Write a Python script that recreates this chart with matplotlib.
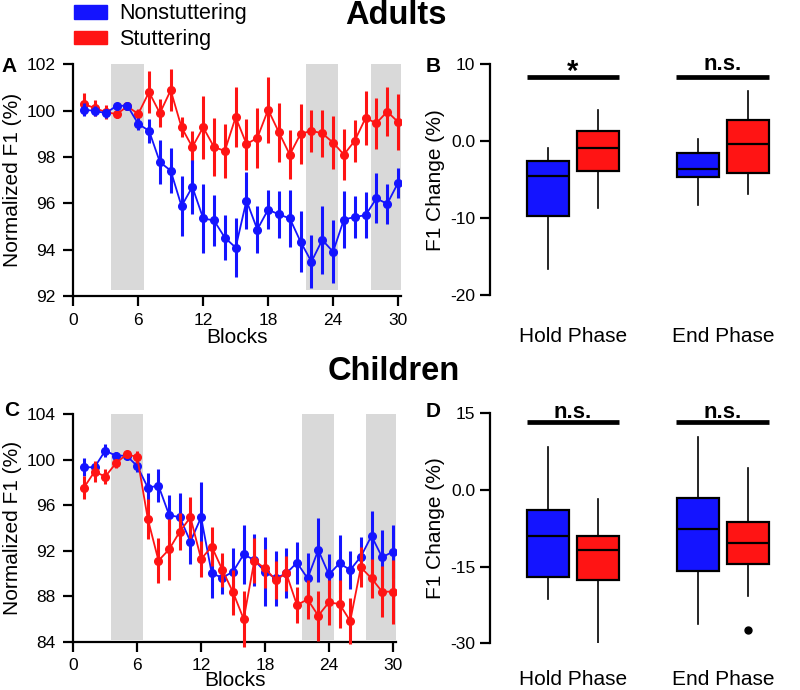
import numpy as np
import matplotlib.pyplot as plt
from matplotlib.patches import Patch

plt.rcParams['font.family'] = ['Liberation Sans', 'DejaVu Sans']

BLUE = '#1414ff'
RED = '#ff1414'
GREY = '#d9d9d9'

blocks = np.arange(1, 31)

# Adults, normalized F1 (%) per block
adult_ns = [100.04, 99.99, 99.89, 100.21, 100.21, 99.43, 99.13, 97.78, 97.41, 95.88,
            96.71, 95.35, 95.26, 94.52, 94.09, 96.12, 94.87, 95.73, 95.52, 95.35,
            94.34, 93.48, 94.42, 93.91, 95.30, 95.41, 95.49, 96.21, 95.98, 96.88]
adult_ns_err = [0.29, 0.2, 0.2, 0.1, 0.1, 0.25, 0.52, 0.95, 0.96, 1.29,
                1.17, 1.5, 1.09, 0.97, 1.29, 1.22, 1.02, 0.84, 1.0, 1.24,
                1.31, 1.14, 1.48, 1.37, 1.22, 0.9, 1.0, 1.08, 0.86, 0.63]
adult_s = [100.28, 100.11, 99.94, 99.85, 100.18, 99.86, 100.80, 99.89, 100.88, 99.28,
           98.43, 99.28, 98.43, 98.26, 99.72, 98.56, 98.82, 100.04, 99.06, 98.10,
           99.00, 99.13, 99.02, 98.62, 98.10, 98.70, 99.68, 99.46, 99.96, 99.51]
adult_s_err = [0.48, 0.36, 0.29, 0.15, 0.12, 0.2, 0.9, 0.6, 0.9, 0.43,
               0.68, 1.36, 1.24, 1.15, 1.3, 1.1, 1.29, 1.43, 1.29, 1.05,
               1.29, 0.9, 1.0, 1.15, 1.1, 0.9, 1.16, 1.1, 1.07, 1.22]

# Children
child_ns = [99.34, 99.34, 100.80, 100.36, 100.36, 99.45, 97.55, 97.72, 95.14, 94.94,
            92.80, 94.94, 90.01, 89.63, 90.16, 91.68, 91.18, 90.16, 89.57, 90.01,
            90.95, 89.57, 92.06, 89.92, 90.89, 90.31, 91.48, 93.30, 91.42, 91.92]
child_ns_err = [0.8, 0.4, 0.6, 0.3, 0.3, 0.5, 1.3, 1.47, 1.8, 2.1,
                2.0, 3.1, 2.14, 1.44, 2.05, 2.57, 2.3, 3.05, 2.45, 2.2,
                1.85, 2.23, 2.83, 1.76, 2.53, 1.66, 1.73, 2.15, 2.43, 2.3]
child_s = [97.55, 98.96, 98.52, 99.69, 100.48, 100.25, 94.79, 91.13, 92.12, 93.68,
           94.94, 91.27, 92.36, 90.31, 88.34, 85.99, 91.13, 90.45, 89.43, 90.01,
           87.23, 87.72, 86.29, 87.46, 87.31, 85.82, 90.54, 89.57, 88.40, 88.40]
child_s_err = [1.0, 0.9, 0.65, 0.4, 0.3, 0.5, 1.8, 1.95, 2.7, 1.6,
               1.8, 1.55, 1.7, 1.47, 2.0, 2.5, 2.0, 1.7, 1.7, 1.55,
               1.6, 1.7, 2.2, 2.0, 2.1, 2.05, 1.76, 1.7, 2.25, 2.8]

shade_blocks = [(3.5, 6.5), (21.5, 24.5), (27.5, 30.5)]

# box plots: order = hold NS, hold S, end NS, end S
phases = ['Hold Phase', 'End Phase']
adult_q1 = [-9.68, -3.83, -4.69, -4.17]
adult_med = [-4.48, -0.84, -3.65, -0.36]
adult_q3 = [-2.57, 1.29, -1.49, 2.80]
adult_lo = [-16.66, -8.73, -8.29, -6.9]
adult_hi = [-0.92, 4.06, 0.25, 6.58]
adult_fliers = [[], [], [], []]
adult_sig = ['*', 'n.s.']

child_q1 = [-16.96, -17.62, -15.79, -14.55]
child_med = [-9.07, -11.81, -7.63, -10.31]
child_q3 = [-3.98, -9.0, -1.5, -6.27]
child_lo = [-21.4, -30.0, -26.29, -20.68]
child_hi = [8.35, -1.83, 10.43, 4.37]
child_fliers = [[], [], [], [-27.4]]
child_sig = ['n.s.', 'n.s.']

box_pos = [1, 2, 4, 5]
box_cols = [BLUE, RED, BLUE, RED]


def style_axis(ax, ypad):
    for sp in ['top', 'right']:
        ax.spines[sp].set_visible(False)
    for sp in ['left', 'bottom']:
        ax.spines[sp].set_linewidth(1.6)
    ax.tick_params(direction='out', length=7, width=1.6, labelsize=12.5)
    ax.tick_params(axis='y', pad=ypad)
    ax.tick_params(axis='x', pad=5)


def line_panel(ax, ns, ns_err, s, s_err, ylim, yticks, red_on_top, shade_min, xlpad):
    for a, b in shade_blocks:
        ax.axvspan(a, b, ymin=shade_min, ymax=1, color=GREY, lw=0, zorder=0)
    z_red = 4 if red_on_top else 2
    z_blue = 2 if red_on_top else 4
    for y, e, c, z in [(ns, ns_err, BLUE, z_blue), (s, s_err, RED, z_red)]:
        eb = ax.errorbar(blocks, y, yerr=e, color=c, marker='o', ms=5.5, lw=1.3,
                         elinewidth=2.2, capsize=0, zorder=z)
        for coll in eb.lines[2]:
            coll.set_clip_on(False)
    ax.set_xlim(0, 30.3)
    ax.set_ylim(*ylim)
    ax.set_xticks([0, 6, 12, 18, 24, 30])
    ax.set_yticks(yticks)
    style_axis(ax, 6)
    ax.set_xlabel('Blocks', fontsize=15, labelpad=xlpad)
    ax.set_ylabel('Normalized F1 (%)', fontsize=15, labelpad=3)


def box_panel(ax, q1, med, q3, lo, hi, fliers, sig, ylim, yticks, ylabels,
              sig_y, txt_y, star_y, xpad):
    stats = []
    for i in range(4):
        stats.append(dict(q1=q1[i], med=med[i], q3=q3[i], whislo=lo[i],
                          whishi=hi[i], fliers=fliers[i]))
    bp = ax.bxp(stats, positions=box_pos, widths=0.83, patch_artist=True,
                showcaps=False,
                boxprops=dict(linewidth=1.6, edgecolor='black'),
                medianprops=dict(color='black', linewidth=1.6),
                whiskerprops=dict(color='black', linewidth=1.2),
                flierprops=dict(marker='o', markerfacecolor='black',
                                markeredgecolor='black', markersize=5))
    for patch, c in zip(bp['boxes'], box_cols):
        patch.set_facecolor(c)
    ax.set_xlim(-0.16, 5.7)
    ax.set_ylim(*ylim)
    ax.set_yticks(yticks)
    ax.set_yticklabels(ylabels)
    ax.set_xticks([1.5, 4.5])
    ax.set_xticklabels(phases)
    style_axis(ax, 3.5)
    ax.tick_params(axis='x', length=0, labelsize=15, pad=xpad)
    ax.spines['bottom'].set_visible(False)
    ax.set_ylabel('F1 Change (%)', fontsize=15, labelpad=4)
    for (x0, x1), t in zip([(0.58, 2.42), (3.56, 5.42)], sig):
        ax.plot([x0, x1], [sig_y, sig_y], color='black', lw=3.4,
                solid_capstyle='butt', clip_on=False)
        ty = star_y if t == '*' else txt_y
        fs = 21 if t == '*' else 16
        ax.text((x0 + x1) / 2, ty, t, ha='center', va='center',
                fontsize=fs, fontweight='bold', clip_on=False)


fig = plt.figure(figsize=(8, 6.9), dpi=100)

axA = fig.add_axes([0.0916, 0.571, 0.410, 0.3358])
line_panel(axA, adult_ns, adult_ns_err, adult_s, adult_s_err,
           (92, 102), [92, 94, 96, 98, 100, 102], False, 0.025, 0)

axC = fig.add_axes([0.0916, 0.070, 0.4034, 0.3296])
line_panel(axC, child_ns, child_ns_err, child_s, child_s_err,
           (84, 104), [84, 88, 92, 96, 100, 104], True, 0.007, -2)

axB = fig.add_axes([0.6125, 0.5725, 0.366, 0.3343])
box_panel(axB, adult_q1, adult_med, adult_q3, adult_lo, adult_hi, adult_fliers,
          adult_sig, (-20, 10), [10, 0, -10, -20], ['10', '0.0', '-10', '-20'],
          8.4, 10.0, 9.0, 23)

axD = fig.add_axes([0.6125, 0.0677, 0.366, 0.3333])
box_panel(axD, child_q1, child_med, child_q3, child_lo, child_hi, child_fliers,
          child_sig, (-30, 15), [15, 0, -15, -30], ['15', '0.0', '-15', '-30'],
          13.24, 15.2, 14.2, 19.5)

fig.text(0.495, 0.978, 'Adults', ha='center', va='center', fontsize=23.5, fontweight='bold')
fig.text(0.492, 0.461, 'Children', ha='center', va='center', fontsize=23.5, fontweight='bold')

for lbl, x, y in [('A', 0.011, 0.903), ('B', 0.541, 0.904),
                  ('C', 0.014, 0.405), ('D', 0.542, 0.404)]:
    fig.text(x, y, lbl, ha='center', va='center', fontsize=15, fontweight='bold')

handles = [Patch(color=BLUE), Patch(color=RED)]
fig.legend(handles, ['Nonstuttering', 'Stuttering'], loc='upper left',
           bbox_to_anchor=(0.092, 0.995), frameon=False, fontsize=15.5,
           handlelength=1.55, handleheight=0.6, handletextpad=0.55,
           labelspacing=0.22, borderpad=0, borderaxespad=0)

fig.savefig('out.png', dpi=100)
